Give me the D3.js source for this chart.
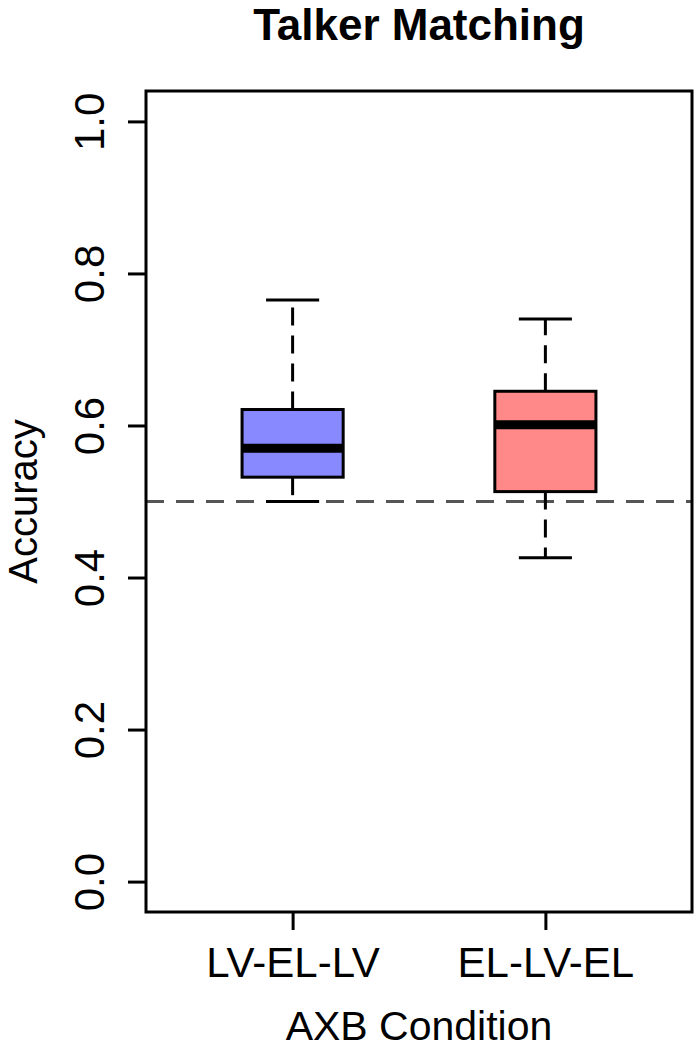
<!DOCTYPE html>
<html>
<head>
<meta charset="utf-8">
<script src="https://cdn.jsdelivr.net/npm/d3@7"></script>
<style>
  body { margin: 0; background: #fff; }
  text { font-family: "Liberation Sans", Arial, sans-serif; }
</style>
</head>
<body>
<div id="chart-area"></div>
<script>
// boxplot stats
var categories = ["LV-EL-LV", "EL-LV-EL"];
var whiskerLow = [0.500, 0.426];
var q1 = [0.532, 0.513];
var medians = [0.570, 0.601];
var q3 = [0.621, 0.645];
var whiskerHigh = [0.765, 0.740];
var fills = ["#8888ff", "#ff8888"];
var yTicks = [0, 0.2, 0.4, 0.6, 0.8, 1.0];
var chance = 0.5;

var W = 697, H = 1050;
var plotL = 146, plotR = 692, plotT = 91, plotB = 912;

var svg = d3.select("#chart-area")
    .append("svg")
    .attr("width", W)
    .attr("height", H);

var x = d3.scaleLinear().domain([0.42, 2.58]).range([plotL, plotR]);
var y = d3.scaleLinear().domain([-0.04, 1.04]).range([plotB, plotT]);

var data = categories.map((c, i) => ({
    name: c, pos: i + 1,
    lo: whiskerLow[i], q1: q1[i], med: medians[i], q3: q3[i], hi: whiskerHigh[i],
    fill: fills[i]
}));

// chance line
svg.append("line")
    .attr("x1", plotL).attr("x2", plotR)
    .attr("y1", y(chance)).attr("y2", y(chance))
    .attr("stroke", "#555").attr("stroke-width", 3)
    .attr("stroke-dasharray", "18,12");

var g = svg.selectAll(".box").data(data).enter().append("g").attr("class", "box");

// whiskers
g.append("line")
    .attr("x1", d => x(d.pos)).attr("x2", d => x(d.pos))
    .attr("y1", d => y(d.q3)).attr("y2", d => y(d.hi))
    .attr("stroke", "#000").attr("stroke-width", 3).attr("stroke-dasharray", "18,10");
g.append("line")
    .attr("x1", d => x(d.pos)).attr("x2", d => x(d.pos))
    .attr("y1", d => y(d.q1)).attr("y2", d => y(d.lo))
    .attr("stroke", "#000").attr("stroke-width", 3).attr("stroke-dasharray", "18,10");
// staples
["hi", "lo"].forEach(k => {
    g.append("line")
        .attr("x1", d => x(d.pos - 0.105)).attr("x2", d => x(d.pos + 0.105))
        .attr("y1", d => y(d[k])).attr("y2", d => y(d[k]))
        .attr("stroke", "#000").attr("stroke-width", 3);
});
// boxes
g.append("rect")
    .attr("x", d => x(d.pos - 0.2))
    .attr("width", d => x(d.pos + 0.2) - x(d.pos - 0.2))
    .attr("y", d => y(d.q3))
    .attr("height", d => y(d.q1) - y(d.q3))
    .attr("fill", d => d.fill)
    .attr("stroke", "#000").attr("stroke-width", 3);
// medians
g.append("line")
    .attr("x1", d => x(d.pos - 0.2)).attr("x2", d => x(d.pos + 0.2))
    .attr("y1", d => y(d.med)).attr("y2", d => y(d.med))
    .attr("stroke", "#000").attr("stroke-width", 9);

// frame
svg.append("rect")
    .attr("x", plotL).attr("y", plotT)
    .attr("width", plotR - plotL).attr("height", plotB - plotT)
    .attr("fill", "none").attr("stroke", "#000").attr("stroke-width", 3);

// y axis
var yAxis = svg.append("g")
    .attr("transform", "translate(" + plotL + ",0)")
    .call(d3.axisLeft(y).tickValues(yTicks).tickFormat(d3.format(".1f")).tickSize(18).tickSizeOuter(0));
yAxis.select(".domain").remove();
yAxis.selectAll(".tick line").attr("stroke-width", 3);
yAxis.selectAll(".tick text")
    .attr("font-size", 42)
    .attr("fill", "#000")
    .attr("text-anchor", "middle")
    .attr("transform", "translate(-57,0) rotate(-90)")
    .attr("x", 0).attr("dy", "0.36em").attr("y", 0);

// x axis
var xAxis = svg.append("g")
    .attr("transform", "translate(0," + plotB + ")")
    .call(d3.axisBottom(x).tickValues([1, 2]).tickFormat(d => categories[d - 1]).tickSize(18).tickSizeOuter(0));
xAxis.select(".domain").remove();
xAxis.selectAll(".tick line").attr("stroke-width", 3);
xAxis.selectAll(".tick text")
    .attr("font-size", 42)
    .attr("fill", "#000")
    .attr("y", 65).attr("dy", 0);

// titles
svg.append("text")
    .attr("x", (plotL + plotR) / 2).attr("y", 40)
    .attr("text-anchor", "middle")
    .attr("font-size", 44).attr("font-weight", "bold")
    .text("Talker Matching");

svg.append("text")
    .attr("x", (plotL + plotR) / 2).attr("y", 1040)
    .attr("text-anchor", "middle")
    .attr("font-size", 41)
    .text("AXB Condition");

svg.append("text")
    .attr("transform", "translate(37," + ((plotT + plotB) / 2) + ") rotate(-90)")
    .attr("text-anchor", "middle")
    .attr("font-size", 40)
    .text("Accuracy");
</script>
</body>
</html>
